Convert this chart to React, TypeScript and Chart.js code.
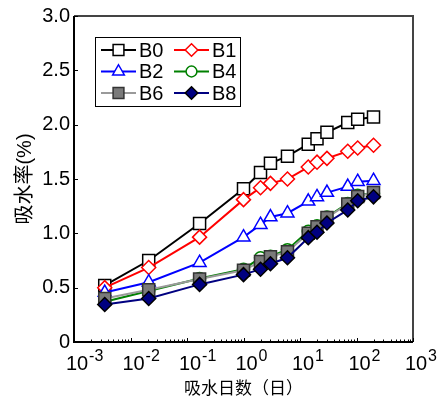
import React, { useEffect, useRef } from 'react';
import { Chart, registerables } from 'chart.js';

Chart.register(...registerables);

// ---- data ----
const days = [0.0035, 0.021, 0.167, 1, 2, 3, 6, 14, 20, 30, 70, 105, 200];
const B0 = [0.52, 0.75, 1.09, 1.41, 1.56, 1.645, 1.71, 1.82, 1.87, 1.93, 2.02, 2.05, 2.07];
const B1 = [0.5, 0.685, 0.965, 1.31, 1.42, 1.46, 1.5, 1.61, 1.655, 1.69, 1.755, 1.785, 1.81];
const B2 = [0.455, 0.55, 0.73, 0.965, 1.08, 1.15, 1.185, 1.295, 1.335, 1.375, 1.43, 1.475, 1.485];
const B4 = [0.37, 0.47, 0.585, 0.67, 0.775, 0.79, 0.85, 1.02, 1.07, 1.15, 1.275, 1.35, 1.37];
const B6 = [0.4, 0.48, 0.58, 0.66, 0.74, 0.785, 0.83, 1.0, 1.06, 1.145, 1.27, 1.34, 1.375];
const B8 = [0.345, 0.4, 0.53, 0.62, 0.67, 0.72, 0.775, 0.96, 1.01, 1.095, 1.215, 1.3, 1.336];
const seriesNames = ['B0', 'B1', 'B2', 'B4', 'B6', 'B8'];
const seriesValues = [B0, B1, B2, B4, B6, B8];
const yTicks = [0, 0.5, 1.0, 1.5, 2.0, 2.5, 3.0];
const xDecades = [-3, -2, -1, 0, 1, 2, 3];
const xTitle = '吸水日数（日）';
const yTitle = '吸水率(%)';

const FONT = '"Liberation Sans", Arial, "Noto Sans CJK SC", sans-serif';
const CJK = '"Noto Sans CJK SC", "Liberation Sans", sans-serif';

const styles = [
  { line: '#000000', fill: '#ffffff', edge: '#000000', shape: 'rect', r: 8.5 },
  { line: '#ff0000', fill: '#ffffff', edge: '#ff0000', shape: 'rectRot', r: 7 },
  { line: '#0000ff', fill: '#ffffff', edge: '#0000ff', shape: 'triangle', r: 7.5 },
  { line: '#008000', fill: '#ffffff', edge: '#008000', shape: 'circle', r: 6 },
  { line: '#9a9a9a', fill: '#7a7a7a', edge: '#333333', shape: 'rect', r: 8.5 },
  { line: '#000080', fill: '#000080', edge: '#000000', shape: 'rectRot', r: 7 },
];

function drawMarker(ctx: CanvasRenderingContext2D, shape: string, x: number, y: number, r: number, fill: string, edge: string) {
  ctx.save();
  ctx.beginPath();
  if (shape === 'rect') {
    const s = r * Math.SQRT1_2;
    ctx.rect(x - s, y - s, 2 * s, 2 * s);
  } else if (shape === 'rectRot') {
    ctx.moveTo(x, y - r);
    ctx.lineTo(x + r, y);
    ctx.lineTo(x, y + r);
    ctx.lineTo(x - r, y);
    ctx.closePath();
  } else if (shape === 'triangle') {
    ctx.moveTo(x, y - r);
    ctx.lineTo(x + r * 0.866, y + r * 0.5);
    ctx.lineTo(x - r * 0.866, y + r * 0.5);
    ctx.closePath();
  } else {
    ctx.arc(x, y, r, 0, Math.PI * 2);
  }
  ctx.fillStyle = fill;
  ctx.fill();
  ctx.lineWidth = 1.5;
  ctx.strokeStyle = edge;
  ctx.stroke();
  ctx.restore();
}

const decorPlugin = {
  id: 'decor',
  afterDraw(chart: any) {
    const ctx: CanvasRenderingContext2D = chart.ctx;
    const { left, right, top, bottom } = chart.chartArea;
    const xs = chart.scales.x;
    const ys = chart.scales.y;
    ctx.save();
    // frame
    ctx.lineWidth = 2;
    ctx.strokeStyle = '#444444';
    ctx.beginPath();
    ctx.moveTo(left, top);
    ctx.lineTo(right, top);
    ctx.lineTo(right, bottom);
    ctx.stroke();
    ctx.strokeStyle = '#000000';
    ctx.beginPath();
    ctx.moveTo(left, top);
    ctx.lineTo(left, bottom);
    ctx.lineTo(right, bottom);
    ctx.stroke();
    // x ticks (inside)
    ctx.lineWidth = 1;
    ctx.beginPath();
    for (let e = -3; e <= 3; e++) {
      for (let k = 1; k <= 9; k++) {
        if (e === 3 && k > 1) break;
        const v = k * Math.pow(10, e);
        const px = Math.round(xs.getPixelForValue(v)) + 0.5;
        const len = k === 1 ? 4 : 2.5;
        ctx.moveTo(px, bottom);
        ctx.lineTo(px, bottom - len);
      }
    }
    // y ticks (inside)
    yTicks.forEach((t) => {
      const py = Math.round(ys.getPixelForValue(t)) + 0.5;
      ctx.moveTo(left, py);
      ctx.lineTo(left + 4, py);
    });
    ctx.stroke();
    // x labels with superscripts
    ctx.fillStyle = '#000000';
    xDecades.forEach((e) => {
      const px = xs.getPixelForValue(Math.pow(10, e));
      ctx.font = `20px ${FONT}`;
      ctx.textAlign = 'center';
      ctx.textBaseline = 'middle';
      const w = ctx.measureText('10').width;
      const cx = px + 3;
      ctx.fillText('10', cx, bottom + 22);
      ctx.font = `16px ${FONT}`;
      ctx.textAlign = 'left';
      ctx.fillText(String(e), cx + w / 2 + 1, bottom + 15);
    });
    // legend
    const bx = left + 21;
    const by = top + 21;
    const bw = 145;
    const bh = 69;
    ctx.fillStyle = '#ffffff';
    ctx.fillRect(bx, by, bw, bh);
    ctx.lineWidth = 1;
    ctx.strokeStyle = '#000000';
    ctx.strokeRect(bx + 0.5, by + 0.5, bw, bh);
    seriesNames.forEach((name, i) => {
      const col = i % 2;
      const row = Math.floor(i / 2);
      const st = styles[i];
      const lx = bx + 6 + col * 73;
      const ly = by + 13 + row * 21.5;
      ctx.strokeStyle = st.line;
      ctx.lineWidth = 2;
      ctx.beginPath();
      ctx.moveTo(lx, ly);
      ctx.lineTo(lx + 35, ly);
      ctx.stroke();
      drawMarker(ctx, st.shape, lx + 17.5, ly, st.r * 0.9, st.fill, st.edge);
      ctx.fillStyle = '#000000';
      ctx.font = `20px ${FONT}`;
      ctx.textAlign = 'left';
      ctx.textBaseline = 'middle';
      ctx.fillText(name, lx + 38, ly + 1);
    });
    ctx.restore();
  },
};

export default function App() {
  const ref = useRef<HTMLCanvasElement | null>(null);
  useEffect(() => {
    document.body.style.margin = '0';
    const canvas = ref.current;
    if (!canvas) return;
    const datasets = seriesNames.map((name, i) => {
      const st = styles[i];
      return {
        label: name,
        data: days.map((d, j) => ({ x: d, y: seriesValues[i][j] })),
        borderColor: st.line,
        backgroundColor: st.fill,
        borderWidth: 2,
        pointStyle: st.shape,
        pointRadius: st.r,
        pointBackgroundColor: st.fill,
        pointBorderColor: st.edge,
        pointBorderWidth: 1.5,
        tension: 0,
        order: seriesNames.length - i,
      };
    });
    const chart = new Chart(canvas, {
      type: 'line',
      data: { datasets },
      options: {
        responsive: false,
        animation: false,
        devicePixelRatio: 1,
        layout: { padding: { top: 12, right: 25, left: 0, bottom: 0 } },
        plugins: { legend: { display: false }, tooltip: { enabled: false } },
        scales: {
          x: {
            type: 'logarithmic',
            min: 0.001,
            max: 1000,
            grid: { display: false, drawTicks: false },
            border: { display: false },
            ticks: { display: false },
            title: {
              display: true,
              text: xTitle,
              color: '#000000',
              font: { family: CJK, size: 17 },
              padding: { top: 0, bottom: 7 },
            },
            afterFit: (s: any) => {
              s.height = 63;
            },
          },
          y: {
            type: 'linear',
            min: 0,
            max: 3,
            grid: { display: false, drawTicks: false },
            border: { display: false },
            ticks: {
              stepSize: 0.5,
              color: '#000000',
              padding: 4,
              font: { family: FONT, size: 20 },
              callback: (v: any) => (Number(v) === 0 ? '0' : Number(v).toFixed(1)),
            },
            title: {
              display: true,
              text: yTitle,
              color: '#000000',
              font: { family: FONT, size: 20 },
              padding: { top: 13, bottom: 0 },
            },
            afterFit: (s: any) => {
              s.width = 74;
            },
          },
        },
      },
      plugins: [decorPlugin],
    });
    return () => chart.destroy();
  }, []);
  return (
    <div style={{ width: 438, height: 405 }}>
      <canvas ref={ref} width={438} height={405} style={{ display: 'block' }} />
    </div>
  );
}
